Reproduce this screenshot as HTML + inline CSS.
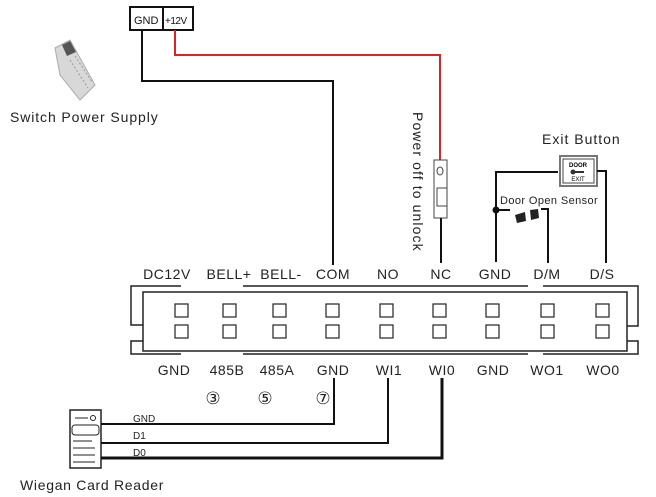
<!DOCTYPE html>
<html><head><meta charset="utf-8"><style>
html,body{margin:0;padding:0;background:#fff;}
svg{display:block;font-family:"Liberation Sans",sans-serif;}
</style></head><body>
<svg width="656" height="497" viewBox="0 0 656 497" xmlns="http://www.w3.org/2000/svg">
<g>
<polygon points="55,48 70,40 95,85 80,100 60,75" fill="#d8d8d8" stroke="#aaa"/>
<polygon points="62,45 70,41 76,52 67,56" fill="#555"/>
<line x1="70" y1="60" x2="88" y2="88" stroke="#999" stroke-dasharray="2,2"/>
<line x1="75" y1="56" x2="92" y2="82" stroke="#999" stroke-dasharray="2,2"/>
</g>
<text x="10" y="122" font-size="14" fill="#222" letter-spacing="0.9">Switch Power Supply</text>
<rect x="130" y="7" width="63" height="23" fill="#fff" stroke="#111" stroke-width="2"/>
<line x1="163" y1="7" x2="163" y2="30" stroke="#111" stroke-width="2"/>
<text x="134" y="24" font-size="11" fill="#111">GND</text>
<text x="165" y="24" font-size="10" fill="#111" letter-spacing="-0.5">+12V</text>
<polyline points="142,30 142,81 333,81 333,265" fill="none" stroke="#111" stroke-width="2"/>
<polyline points="175,30 175,55 440,55 440,160" fill="none" stroke="#d22" stroke-width="2"/>
<rect x="434" y="160" width="13" height="58" fill="#fff" stroke="#444"/>
<rect x="437" y="188" width="10" height="18" fill="#fff" stroke="#444"/>
<ellipse cx="440" cy="171" rx="3" ry="4" fill="none" stroke="#444"/>
<line x1="441" y1="218" x2="441" y2="263" stroke="#111" stroke-width="2"/>
<text transform="translate(413,112) rotate(90)" font-size="14" fill="#222" letter-spacing="1.1">Power off to unlock</text>
<text x="542" y="144" font-size="14" fill="#222" letter-spacing="1">Exit Button</text>
<rect x="560" y="156" width="37" height="30" fill="#fff" stroke="#777" stroke-width="2"/>
<rect x="563" y="159" width="31" height="24" fill="#fff" stroke="#444"/>
<text x="578" y="167" font-size="6" font-weight="bold" text-anchor="middle">DOOR</text>
<text x="578" y="181" font-size="6" text-anchor="middle">EXIT</text>
<circle cx="573" cy="172" r="2.5" fill="#333"/><line x1="575" y1="172" x2="584" y2="172" stroke="#333" stroke-width="2"/>
<polyline points="496,262 496,172 558,172" fill="none" stroke="#111" stroke-width="2"/>
<circle cx="496" cy="210" r="3.5" fill="#111"/>
<line x1="496" y1="210" x2="510" y2="210" stroke="#111" stroke-width="2"/>
<text x="500" y="204" font-size="11" fill="#222" letter-spacing="0.4">Door Open Sensor</text>
<polygon points="515,215 525,212 526,221 517,223" fill="#222"/>
<polygon points="530,210 538,209 539,218 531,220" fill="#222"/>
<polyline points="541,209 548,209 548,263" fill="none" stroke="#111" stroke-width="2"/>
<polyline points="597,171 606,171 606,263" fill="none" stroke="#111" stroke-width="2"/>
<g font-size="14" fill="#222" text-anchor="middle" letter-spacing="0.5">
<text x="167" y="279">DC12V</text><text x="229" y="279">BELL+</text><text x="281" y="279">BELL-</text>
<text x="333" y="279">COM</text><text x="388" y="279">NO</text><text x="441" y="279">NC</text>
<text x="495" y="279">GND</text><text x="547" y="279">D/M</text><text x="602" y="279">D/S</text>
<text x="174" y="375">GND</text><text x="227" y="375">485B</text><text x="277" y="375">485A</text>
<text x="333" y="375">GND</text><text x="389" y="375">WI1</text><text x="442" y="375">WI0</text>
<text x="493" y="375">GND</text><text x="547" y="375">WO1</text><text x="603" y="375">WO0</text>
</g>
<g fill="none" stroke="#222" stroke-width="1.5">
<rect x="143" y="292" width="484" height="59"/>
<polyline points="181,286 131,286 131,325 143,325"/>
<polyline points="143,341 131,341 131,354 181,354"/>
<line x1="243" y1="286" x2="528" y2="286"/>
<line x1="243" y1="354" x2="528" y2="354"/>
<polyline points="543,286 638,286 638,326 627,326"/>
<polyline points="627,341 638,341 638,354 543,354"/>
</g>
<g fill="#fff" stroke="#222" stroke-width="1.2">
<rect x="175" y="304" width="13" height="13"/><rect x="175" y="325" width="13" height="13"/>
<rect x="223" y="304" width="13" height="13"/><rect x="223" y="325" width="13" height="13"/>
<rect x="273" y="304" width="13" height="13"/><rect x="273" y="325" width="13" height="13"/>
<rect x="326" y="304" width="13" height="13"/><rect x="326" y="325" width="13" height="13"/>
<rect x="380" y="304" width="13" height="13"/><rect x="380" y="325" width="13" height="13"/>
<rect x="433" y="304" width="13" height="13"/><rect x="433" y="325" width="13" height="13"/>
<rect x="486" y="304" width="13" height="13"/><rect x="486" y="325" width="13" height="13"/>
<rect x="541" y="304" width="13" height="13"/><rect x="541" y="325" width="13" height="13"/>
<rect x="596" y="304" width="13" height="13"/><rect x="596" y="325" width="13" height="13"/>
</g>
<g font-size="17" fill="#222" text-anchor="middle" font-family="DejaVu Sans,sans-serif">
<text x="213" y="404">③</text><text x="265" y="404">⑤</text><text x="323" y="404">⑦</text>
</g>
<rect x="70" y="410" width="31" height="58" fill="#fff" stroke="#222" stroke-width="1.5"/>
<line x1="75" y1="418" x2="88" y2="418" stroke="#222"/><circle cx="93" cy="418" r="2.5" fill="none" stroke="#222"/>
<rect x="72" y="425" width="27" height="10" rx="3" fill="none" stroke="#222"/>
<line x1="73" y1="441" x2="92" y2="441" stroke="#222"/>
<line x1="73" y1="448" x2="95" y2="448" stroke="#222"/>
<line x1="73" y1="455" x2="95" y2="455" stroke="#222"/>
<line x1="73" y1="462" x2="95" y2="462" stroke="#222"/>
<polyline points="101,424 334,424 334,378" fill="none" stroke="#111" stroke-width="2"/>
<polyline points="101,443 388,443 388,378" fill="none" stroke="#111" stroke-width="2"/>
<polyline points="101,458 442,458 442,378" fill="none" stroke="#111" stroke-width="3"/>
<g font-size="10" fill="#222"><text x="133" y="422">GND</text><text x="133" y="439">D1</text><text x="133" y="456">D0</text></g>
<text x="20" y="490" font-size="14" fill="#222" letter-spacing="0.7">Wiegan Card Reader</text>
</svg>
</body></html>
